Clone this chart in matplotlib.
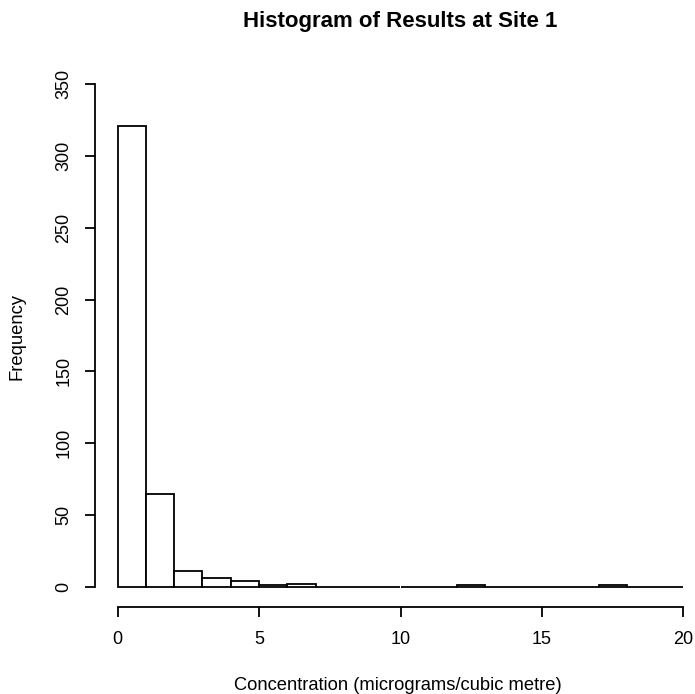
import numpy as np
import matplotlib
matplotlib.use("Agg")
import matplotlib.pyplot as plt

plt.rcParams['font.family'] = ['Liberation Sans', 'DejaVu Sans']

# bin edges (micrograms/cubic metre) and counts
breaks = np.arange(0, 21, 1)
counts = [321, 65, 11, 6, 4, 1, 2, 0, 0, 0, 0, 0, 1, 0, 0, 0, 0, 1, 0, 0]
xticks = [0, 5, 10, 15, 20]
yticks = [0, 50, 100, 150, 200, 250, 300, 350]

fig = plt.figure(figsize=(6.95, 6.94), dpi=100)
# plot region runs a little past the right edge, like the original
ax = fig.add_axes([95 / 695, 87 / 694, 611 / 695, 543 / 694])

ax.bar(breaks[:-1], counts, width=np.diff(breaks), align='edge',
       color='white', edgecolor='black', linewidth=1.3)

# R style axes: 4% padding, axis lines only between first and last tick
ax.set_xlim(-0.8, 20.8)
ax.set_ylim(-14, 364)
ax.spines['top'].set_visible(False)
ax.spines['right'].set_visible(False)
ax.spines['left'].set_bounds(0, 350)
ax.spines['bottom'].set_bounds(0, 20)
for s in ['left', 'bottom']:
    ax.spines[s].set_linewidth(1.3)

ax.set_xticks(xticks)
ax.set_yticks(yticks)
ax.set_yticklabels([str(v) for v in yticks], rotation=90, va='center')
ax.tick_params(axis='both', length=7.2, width=1.3, labelsize=13)
ax.tick_params(axis='x', pad=10)
ax.tick_params(axis='y', pad=9)

fig.text(400 / 695, 1 - 21 / 694, "Histogram of Results at Site 1",
         ha='center', va='center', fontsize=16, fontweight='bold')
fig.text(398 / 695, 1 - 686 / 694, "Concentration (micrograms/cubic metre)",
         ha='center', va='center', fontsize=13.2)
fig.text(17 / 695, 1 - 337 / 694, "Frequency",
         ha='center', va='center', fontsize=13.2, rotation=90)

fig.savefig("out.png", dpi=100)
